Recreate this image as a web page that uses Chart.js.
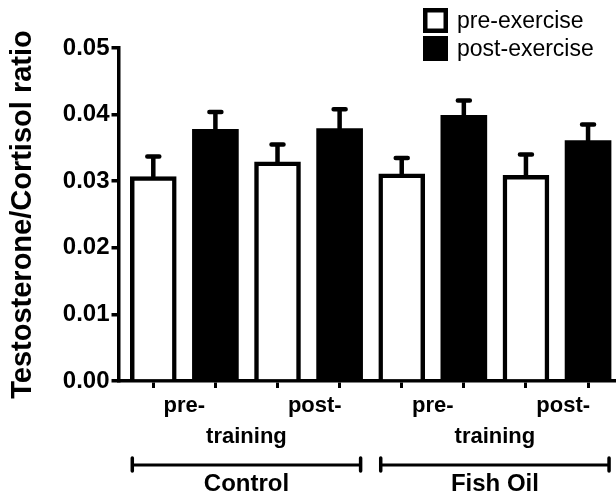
<!DOCTYPE html>
<html>
<head>
<meta charset="utf-8">
<script src="https://cdn.jsdelivr.net/npm/chart.js@4/dist/chart.umd.min.js"></script>
<style>
  html, body { margin: 0; padding: 0; background: #fff; }
  #wrap { width: 616px; height: 496px; }
</style>
</head>
<body>
<div id="wrap"><canvas id="chartRatio"></canvas></div>
<script>
// training phases inside each group, and the two groups
const phases = ['pre-training', 'post-training'];
const groups = ['Control', 'Fish Oil'];
const seriesNames = ['pre-exercise', 'post-exercise'];

// values per bar, order: Control pre, Control post, Fish Oil pre, Fish Oil post
const preValues = [0.0307, 0.0329, 0.0311, 0.0309];
const preErrors = [0.0030, 0.0026, 0.0024, 0.0031];
const postValues = [0.0378, 0.0379, 0.0399, 0.0361];
const postErrors = [0.0026, 0.0029, 0.0022, 0.0024];

const yTicks = [0, 0.01, 0.02, 0.03, 0.04, 0.05];

const FONT = "'Liberation Sans', Arial, sans-serif";

// each bar sits on its own slot of the x axis: pre-exercise even, post-exercise odd
function toPoints(values, shift) {
  return values.map((v, i) => ({ x: i * 2 + shift, y: v }));
}

const errorBars = {
  id: 'errorBars',
  afterDatasetsDraw(chart) {
    const ctx = chart.ctx;
    const yScale = chart.scales.y;
    ctx.save();
    ctx.strokeStyle = '#000';
    ctx.lineWidth = 4.5;
    ctx.lineCap = 'round';
    chart.data.datasets.forEach((ds, di) => {
      const meta = chart.getDatasetMeta(di);
      meta.data.forEach((bar, i) => {
        const top = yScale.getPixelForValue(ds.data[i].y + ds.errors[i]);
        ctx.beginPath();
        ctx.moveTo(bar.x, bar.y);
        ctx.lineTo(bar.x, top);
        ctx.moveTo(bar.x - 6, top);
        ctx.lineTo(bar.x + 6, top);
        ctx.stroke();
      });
    });
    ctx.restore();
  }
};

const groupLabels = {
  id: 'groupLabels',
  afterDraw(chart) {
    const ctx = chart.ctx;
    const x = chart.scales.x;
    const bottom = chart.chartArea.bottom;
    const half = chart.getDatasetMeta(0).data[0].width / 2;
    ctx.save();
    ctx.fillStyle = '#000';
    ctx.strokeStyle = '#000';
    ctx.textAlign = 'center';
    ctx.textBaseline = 'alphabetic';
    groups.forEach((g, gi) => {
      const base = gi * 4;
      ctx.font = 'bold 22px ' + FONT;
      ctx.fillText('pre-', x.getPixelForValue(base + 0.5), bottom + 31);
      ctx.fillText('training', x.getPixelForValue(base + 1.5), bottom + 62);
      ctx.fillText('post-', x.getPixelForValue(base + 2.6), bottom + 31);

      // bracket under each group
      const x1 = x.getPixelForValue(base) - half + 2;
      const x2 = x.getPixelForValue(base + 3) + half - 2;
      const yb = bottom + 84;
      ctx.lineWidth = 3;
      ctx.lineCap = 'butt';
      ctx.beginPath();
      ctx.moveTo(x1, yb);
      ctx.lineTo(x2, yb);
      ctx.stroke();
      ctx.lineWidth = 3.5;
      ctx.lineCap = 'round';
      ctx.beginPath();
      ctx.moveTo(x1, yb - 7);
      ctx.lineTo(x1, yb + 6);
      ctx.moveTo(x2, yb - 7);
      ctx.lineTo(x2, yb + 6);
      ctx.stroke();

      ctx.font = 'bold 24px ' + FONT;
      ctx.fillText(g, (x1 + x2) / 2, bottom + 110);
    });

    // legend, top right
    const lx = 423, size = 25;
    ctx.font = '23px ' + FONT;
    ctx.textAlign = 'left';
    ctx.textBaseline = 'middle';
    chart.data.datasets.forEach((ds, di) => {
      const ly = 8 + di * 28;
      ctx.fillStyle = ds.borderColor;
      ctx.fillRect(lx, ly, size, size);
      ctx.fillStyle = ds.backgroundColor;
      const b = ds.borderWidth;
      ctx.fillRect(lx + b, ly + b, size - 2 * b, size - 2 * b);
      ctx.fillStyle = '#000';
      ctx.fillText(ds.label, lx + 34, ly + size / 2 + 1);
    });
    ctx.restore();
  }
};

const ctx = document.getElementById('chartRatio').getContext('2d');
new Chart(ctx, {
  type: 'bar',
  data: {
    datasets: [
      {
        label: seriesNames[0],
        data: toPoints(preValues, 0),
        errors: preErrors,
        backgroundColor: '#ffffff',
        borderColor: '#000000',
        borderWidth: 4.5
      },
      {
        label: seriesNames[1],
        data: toPoints(postValues, 1),
        errors: postErrors,
        backgroundColor: '#000000',
        borderColor: '#000000',
        borderWidth: 0
      }
    ]
  },
  plugins: [errorBars, groupLabels],
  options: {
    responsive: true,
    maintainAspectRatio: false,
    animation: false,
    grouped: false,
    barThickness: 46,
    layout: { padding: { top: 48, right: 0, bottom: 108, left: 0 } },
    plugins: {
      legend: { display: false },
      tooltip: { enabled: false }
    },
    scales: {
      x: {
        type: 'linear',
        min: -0.56,
        max: 7.45,
        offset: false,
        border: { display: true, color: '#000', width: 3.5 },
        grid: {
          offset: false,
          drawOnChartArea: false,
          drawTicks: true,
          tickLength: 7,
          color: '#000',
          lineWidth: 3
        },
        ticks: { display: false, stepSize: 1, includeBounds: false }
      },
      y: {
        min: 0,
        max: 0.05,
        afterBuildTicks(scale) {
          scale.ticks = yTicks.map(v => ({ value: v }));
        },
        border: { display: true, color: '#000', width: 3.5 },
        grid: {
          drawOnChartArea: false,
          tickLength: 7,
          color: '#000',
          lineWidth: 3.5
        },
        ticks: {
          color: '#000',
          padding: 2,
          font: { family: FONT, size: 24, weight: 'bold' },
          callback: v => v.toFixed(2)
        },
        title: {
          display: true,
          text: 'Testosterone/Cortisol ratio',
          color: '#000',
          font: { family: FONT, size: 29, weight: 'bold' },
          padding: { top: 6, bottom: 20 }
        }
      }
    }
  }
});
</script>
</body>
</html>
